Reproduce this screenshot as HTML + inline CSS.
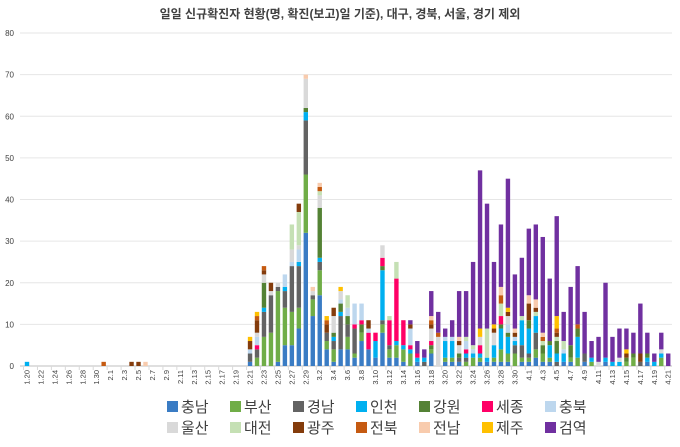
<!DOCTYPE html>
<html><head><meta charset="utf-8">
<style>
body{margin:0;background:#fff;}
svg text{font-family:"Liberation Sans","Noto Sans CJK KR",sans-serif;}
</style></head>
<body>
<svg id="chart" width="680" height="442" viewBox="0 0 680 442">
<text x="340" y="18" text-anchor="middle" font-size="12" font-weight="bold" fill="#404040">일일 신규확진자 현황(명, 확진(보고)일 기준), 대구, 경북, 서울, 경기 제외</text>
<g id="grid"></g><g id="bars"></g><g id="xlabels"></g><g id="legend"></g>
</svg>
<script>
const seriesNames=["충남","부산","경남","인천","강원","세종","충북","울산","대전","광주","전북","전남","제주","검역"];
const seriesColors=["#3a7cc4","#70ad47","#636363","#00b0f0","#548235","#ff0066","#bdd7ee","#d9d9d9","#c5e0b4","#843c0c","#c55a11","#f8cbad","#ffc000","#7030a0"];
const yTicks=[0,10,20,30,40,50,60,70,80];
const chungnam=[0,0,0,0,0,0,0,0,0,0, 0,0,0,0,0,0,0,0,0,0, 0,0,0,0,0,0,0,0,0,0, 0,0,
1,0,0,0,1,5,5,9,32,12,17,4,1,4,4,2,6,4,2,8,2,2,1,0,1,0,3,0,1,1,1,0,0,1,1,1,1,1,0,1,1,2,1,1,0,1,1,0,1,0,0,1,0,0,0,0,0,1,0,0,0];
const busan=[0,0,0,0,0,0,0,0,0,0, 0,0,0,0,0,0,0,0,0,0, 0,0,0,0,0,0,0,0,0,0, 0,0,
0,2,7,8,17,9,8,5,14,4,6,2,3,0,3,1,2,0,0,2,2,3,3,3,0,0,1,0,1,1,0,1,2,1,0,1,3,2,3,1,1,2,2,1,0,0,1,2,0,1,0,0,0,0,1,2,0,0,0,2,0];
const gyeongnam=[0,0,0,0,0,0,0,0,0,0, 0,0,0,0,0,0,0,0,0,0, 0,0,0,0,0,0,0,0,0,0, 0,0,
2,2,6,9,1,4,11,10,13,1,2,2,2,8,3,6,0,0,0,1,1,0,0,0,0,1,0,0,0,0,1,1,0,0,0,0,0,0,2,3,1,4,0,0,1,0,0,0,2,0,0,0,0,0,0,0,1,0,0,0,0];
const incheon=[1,0,0,0,0,0,0,0,0,0, 0,0,0,0,0,0,0,0,0,0, 0,0,0,0,0,0,0,0,0,0, 0,0,
0,0,1,0,0,1,0,1,2,0,1,0,1,1,0,0,0,0,4,12,0,1,1,1,1,1,0,0,4,4,0,1,1,1,1,3,5,4,1,6,6,4,0,3,2,2,0,5,0,1,0,1,1,1,0,0,0,1,1,1,0];
const gangwon=[0,0,0,0,0,0,0,0,0,0, 0,0,0,0,0,0,0,0,0,0, 0,0,0,0,0,0,0,0,0,0, 0,0,
0,0,6,0,0,0,0,0,1,0,12,0,1,2,2,0,2,0,0,1,0,0,0,0,0,0,1,0,0,0,1,0,0,0,0,0,1,1,0,0,2,0,2,1,3,0,3,2,0,0,0,0,0,0,1,1,0,1,0,0,0];
const sejong=[0,0,0,0,0,0,0,0,0,0, 0,0,0,0,0,0,0,0,0,0, 0,0,0,0,0,0,0,0,0,0, 0,0,
0,1,0,0,0,0,0,0,0,0,0,0,0,0,0,1,1,4,2,2,6,15,6,1,1,0,1,0,0,0,0,1,0,2,0,0,2,0,0,0,0,0,0,0,0,0,0,0,0,0,0,0,0,0,0,0,0,0,0,0,0];
const chungbuk=[0,0,0,0,0,0,0,0,0,0, 0,0,0,0,0,0,0,0,0,0, 0,0,0,0,0,0,0,0,0,0, 0,0,
1,2,0,0,0,3,1,3,0,0,0,0,0,1,2,5,4,1,0,0,0,0,0,4,0,0,0,0,1,1,0,2,1,0,0,0,0,2,1,0,0,0,0,0,0,1,0,0,0,0,0,0,0,0,0,0,0,0,0,0,0];
const ulsan=[0,0,0,0,0,0,0,0,0,0, 0,0,0,0,0,0,0,0,0,0, 0,0,0,0,0,0,0,0,0,0, 0,0,
0,1,2,1,1,0,3,1,7,1,3,0,4,2,0,0,0,0,0,3,0,0,0,0,0,0,3,7,0,0,2,0,0,2,0,3,0,2,0,0,0,0,0,0,0,0,0,0,0,0,1,0,0,1,0,0,0,0,0,1,0];
const daejeon=[0,0,0,0,0,0,0,0,0,0, 0,0,0,0,0,0,0,0,0,0, 0,0,0,0,0,0,0,0,0,0, 0,0,
0,0,0,0,0,0,6,8,0,0,1,0,0,0,3,0,0,0,0,0,1,4,0,0,0,0,0,0,0,0,0,1,1,0,7,0,3,0,0,1,0,1,1,0,1,2,0,0,0,0,0,0,0,0,0,0,0,0,0,0,0];
const gwangju=[0,0,0,0,0,0,0,0,0,0, 0,0,0,0,0,1,1,0,0,0, 0,0,0,0,0,0,0,0,0,0, 0,0,
2,3,1,2,0,0,0,2,0,0,0,2,2,0,0,0,0,2,0,0,0,0,0,1,0,0,1,0,0,0,1,0,0,0,0,1,0,1,1,0,4,1,0,0,1,0,0,0,0,0,0,0,0,0,1,0,2,0,0,0,0];
const jeonbuk=[0,0,0,0,0,0,0,0,0,0, 0,1,0,0,0,0,0,0,0,0, 0,0,0,0,0,0,0,0,0,0, 0,0,
0,1,1,0,0,0,0,0,0,0,1,1,0,0,0,0,0,0,0,0,0,0,0,0,0,0,1,1,0,0,0,0,0,0,0,0,2,0,0,0,0,0,1,0,1,0,0,1,0,0,0,0,0,0,0,0,0,0,0,0,0];
const jeonnam=[0,0,0,0,0,0,0,0,0,0, 0,0,0,0,0,0,0,1,0,0, 0,0,0,0,0,0,0,0,0,0, 0,0,
0,0,0,0,0,0,0,0,1,1,1,0,0,0,0,0,0,0,0,0,0,0,0,0,0,0,1,0,0,0,1,0,0,0,0,0,2,0,1,0,2,2,1,0,0,0,0,0,0,0,0,0,0,0,0,0,0,0,0,0,0];
const jeju=[0,0,0,0,0,0,0,0,0,0, 0,0,0,0,0,0,0,0,0,0, 0,0,0,0,0,0,0,0,0,0, 0,0,
1,1,0,0,0,0,0,0,0,0,0,1,0,1,0,0,0,0,0,0,0,0,0,0,0,0,0,0,0,0,0,0,0,2,0,1,0,1,0,0,0,0,0,0,3,0,0,0,0,0,0,0,0,0,1,0,0,0,0,0,0];
const quarantine=[0,0,0,0,0,0,0,0,0,0, 0,0,0,0,0,0,0,0,0,0, 0,0,0,0,0,0,0,0,0,0, 0,0,
0,0,0,0,0,0,0,0,0,0,0,0,0,0,0,0,0,0,0,0,0,0,0,1,3,2,6,5,2,4,11,11,20,38,30,15,15,31,13,14,16,18,23,15,24,7,14,14,10,4,6,18,6,7,5,5,12,5,2,4,3];
const seriesValues=[chungnam,busan,gyeongnam,incheon,gangwon,sejong,chungbuk,ulsan,daejeon,gwangju,jeonbuk,jeonnam,jeju,quarantine];
const monthLens=[[1,20,31],[2,1,29],[3,1,31],[4,1,21]];
const dates=[];
monthLens.forEach(([m,s,e])=>{for(let d=s;d<=e;d++)dates.push(m+"."+d);});

const NS="http://www.w3.org/2000/svg";
const x0=27,dx=6.97,yBase=366,yTop=33,yMax=80;
const xPos=i=>x0+i*dx;
const yPos=v=>yBase-(v/yMax)*(yBase-yTop);
function mk(tag,attrs,parent){const e=document.createElementNS(NS,tag);for(const k in attrs)e.setAttribute(k,attrs[k]);parent.appendChild(e);return e;}
const grid=document.getElementById('grid');
yTicks.forEach(t=>{
  const ln=mk('line',{x1:20,x2:672,y1:yPos(t),y2:yPos(t),stroke:t===0?'#bfbfbf':'#e6e6e6','stroke-width':1},grid);
  
  
  const tx=mk('text',{x:14,y:yPos(t)+3,'text-anchor':'end','font-size':8,fill:'#404040'},grid);
  tx.textContent=t;
  
  
});
const bars=document.getElementById('bars');
dates.forEach((d,i)=>{
  let acc=0;
  seriesValues.forEach((arr,s)=>{
    const v=arr[i]||0; if(!v)return;
    const r=mk('rect',{x:xPos(i)-2.2,width:4.4,y:yPos(acc+v),height:yPos(acc)-yPos(acc+v),fill:seriesColors[s]},bars);
    
    
    acc+=v;
  });
});
const xl=document.getElementById('xlabels');
dates.forEach((d,i)=>{
  if(i%2)return;
  mk('line',{x1:xPos(i)-dx/2,x2:xPos(i)-dx/2,y1:366,y2:370,stroke:'#d9d9d9'},xl);
  const t=mk('text',{x:0,y:0,'font-size':7.5,fill:'#404040','text-anchor':'end',transform:`translate(${xPos(i)+2.5},370) rotate(-90)`},xl);
  t.textContent=d;
  
  
});
const lg=document.getElementById('legend');
seriesNames.forEach((n,s)=>{
  const row=Math.floor(s/7),col=s%7;
  const gx=167+col*63,gy=400+row*21;
  const g=mk('g',{},lg);
  
  
  mk('rect',{x:gx,y:gy+1,width:11,height:11,fill:seriesColors[s]},g);
  const t=mk('text',{x:gx+14,y:gy+12,'font-size':15,fill:'#404040'},g);
  t.textContent=n;
});
</script>
</body></html>
